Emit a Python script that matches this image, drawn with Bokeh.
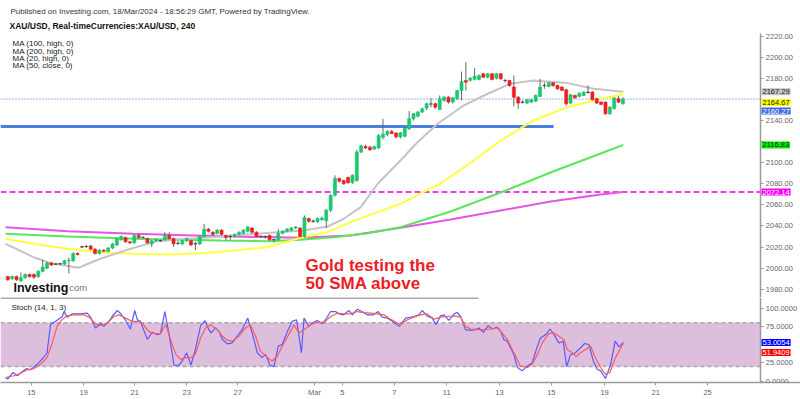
from bokeh.plotting import figure
from bokeh.models import Range1d, FixedTicker, PrintfTickFormatter, BoxAnnotation, Label, ColumnDataSource
from bokeh.layouts import column
from bokeh.embed import file_html
from bokeh.resources import INLINE

FONT = "Liberation Sans"

# ---------------- data (4H XAU/USD candles, bar index = position) ----------------
opens = [1992, 1990, 1992, 1988, 1991, 1994, 1994, 1992, 1997, 2000,
         2005, 2004, 2004, 2004, 2007, 2007, 2014, 2020, 2020.5, 2021,
         2018, 2014, 2017, 2016, 2019, 2022, 2027, 2029, 2025, 2024,
         2031, 2029, 2028, 2023, 2026, 2026, 2027, 2031, 2028, 2023.5,
         2023, 2026, 2026, 2023, 2023, 2030, 2037, 2034, 2033, 2036,
         2031, 2030, 2030, 2032, 2033, 2035, 2038, 2034, 2030, 2030,
         2031, 2027, 2027, 2033, 2035, 2036, 2038, 2038, 2030, 2047,
         2044.5, 2044, 2046, 2045, 2055, 2069, 2085, 2083, 2086, 2081,
         2083, 2110, 2115.3, 2114.7, 2113, 2114, 2124, 2126.5, 2129.5, 2128,
         2124.5, 2125, 2132, 2141.6, 2144, 2148, 2151.7, 2155.5, 2155.8, 2150.4,
         2158.9, 2162, 2157.5, 2160.5, 2168.4, 2177.9, 2178, 2179, 2178.9, 2184.2,
         2181, 2184.2, 2180.1, 2184.2, 2177.9, 2177.9, 2171.6, 2162.1, 2157.4, 2156.5,
         2157.4, 2158.3, 2162.8, 2173.2, 2172.2, 2175.7, 2173.2, 2171.6, 2169, 2156.5,
         2163.7, 2162.8, 2163.7, 2166.9, 2166.9, 2160.6, 2157.4, 2157.4, 2146.3, 2151.1,
         2160.6, 2155.8]
highs = [1993, 1993, 1993, 1996, 1995, 1995, 1995, 1998, 2008, 2006,
         2006, 2005, 2005, 2008, 2010, 2015, 2015, 2021.5, 2022, 2022,
         2019, 2018, 2018, 2020, 2024, 2029, 2031, 2030, 2026, 2032,
         2033, 2030.5, 2029, 2027, 2028, 2027, 2034, 2034, 2029, 2026,
         2027, 2029, 2027, 2025, 2031, 2042, 2038, 2035, 2037, 2037,
         2032, 2032, 2033, 2035, 2037, 2040, 2039, 2035, 2031, 2031,
         2032, 2028, 2037, 2036, 2038, 2039, 2040, 2039, 2050, 2048,
         2046, 2048, 2049, 2056, 2070, 2088, 2086, 2084, 2087, 2089,
         2112, 2117, 2117, 2116, 2116, 2127, 2141.5, 2131, 2131, 2129,
         2129, 2134, 2149, 2147, 2149, 2152, 2157, 2161.2, 2157, 2163.7,
         2163, 2163, 2162, 2169, 2186.4, 2195.3, 2181, 2189.6, 2183.5, 2185,
         2185, 2185, 2185, 2185, 2179.5, 2178.5, 2182.7, 2163, 2159, 2160.5,
         2160.5, 2164.5, 2179.5, 2176, 2176.5, 2176.5, 2174, 2172.5, 2170, 2165,
         2164.5, 2166.5, 2167.5, 2173.2, 2168, 2161.5, 2158, 2158, 2153.5, 2162,
         2163, 2162]
lows = [1988, 1989, 1988, 1987, 1990, 1991, 1990, 1991, 1996, 1999,
        2002, 2003, 2003, 2003, 1995, 2006, 2012, 2019, 2019, 2017,
        2013, 2013, 2015, 2015, 2018, 2021, 2026, 2024, 2023, 2023,
        2028, 2028, 2023, 2020, 2025, 2025, 2026, 2027, 2020, 2022,
        2022, 2025, 2021, 2017, 2022, 2029, 2034, 2031, 2032, 2031,
        2026, 2027, 2029, 2031, 2032, 2034, 2033, 2029, 2029, 2028,
        2026, 2024, 2026, 2032, 2034, 2035, 2037, 2029, 2029, 2043,
        2043, 2043, 2045, 2038, 2053, 2068, 2081, 2079, 2080, 2080,
        2082, 2109, 2113, 2111, 2112, 2113, 2122, 2125, 2127, 2123,
        2123, 2124, 2131, 2140, 2143, 2147, 2150, 2152.6, 2151, 2150.4,
        2158, 2156, 2156, 2159.5, 2159, 2168.4, 2177, 2178, 2178, 2180,
        2180, 2178, 2179, 2178.5, 2176, 2172, 2153.3, 2151.1, 2156, 2155.5,
        2156.5, 2157.5, 2162, 2170, 2171.5, 2172, 2169, 2168, 2154.2, 2155.5,
        2160.5, 2162, 2163, 2165.5, 2159, 2155.5, 2154.5, 2145.5, 2145.5, 2150.5,
        2156.5, 2155]
closes = [1989, 1992, 1989, 1991, 1994, 1992, 1991.5, 1997, 2001, 2005,
          2003, 2003.8, 2004.3, 2007, 2007.5, 2014, 2013, 2020.3, 2020.6, 2018,
          2014, 2017, 2016, 2019, 2023, 2028, 2030, 2025, 2024, 2031,
          2029, 2029.2, 2024, 2026, 2027, 2026.2, 2031, 2028, 2023, 2023.7,
          2026, 2028, 2022, 2023.2, 2030, 2037, 2035, 2032, 2036, 2032,
          2029, 2030.2, 2032, 2034, 2036, 2039, 2034, 2030, 2030.2, 2029.8,
          2027, 2027.2, 2033, 2035, 2037, 2038, 2039, 2030, 2048, 2044.5,
          2044.7, 2047, 2047.5, 2055, 2069, 2085, 2082.5, 2080, 2081, 2088,
          2110, 2116, 2114, 2112.2, 2115.3, 2125.7, 2127, 2129.5, 2127.7, 2124.5,
          2128.3, 2132.5, 2141.6, 2146.3, 2148, 2151, 2155.8, 2155.7, 2152.6, 2160.5,
          2162.1, 2157.4, 2161.5, 2168.4, 2177, 2176.3, 2180.1, 2182, 2182.6, 2181,
          2184.2, 2178.9, 2184.2, 2179.5, 2177.7, 2173.2, 2162.1, 2156.5, 2157.2, 2159.6,
          2159.6, 2163.7, 2171.6, 2173.0, 2175.7, 2173, 2170, 2168.5, 2155.8, 2164.4,
          2161.5, 2165.9, 2166.9, 2166.5, 2159.6, 2156.5, 2155.2, 2146.3, 2152.7, 2161.2,
          2157.4, 2160.27]

# moving averages (sampled along the bar axis)
ma20_x = [-0.5, 5.9, 9.8, 16.2, 21.2, 27.4, 34.3, 41.2, 48.8, 61.8, 67.8, 73.3, 77.0,
          80.9, 84.8, 90.0, 93.9, 98.5, 104.5, 110.0, 115.2, 120.5, 128.3, 134.3, 141.1]
ma20 = [2023.1, 2010.4, 2004.7, 2000.4, 2008.9, 2017.4, 2025.6, 2027.9, 2030.0, 2034.1,
        2035.7, 2039.5, 2046.8, 2057.8, 2080.0, 2102.1, 2119.4, 2136.9, 2154.2, 2165.3,
        2174.8, 2177.9, 2175.4, 2170.1, 2167.29]
ma50_x = [-0.5, 5.9, 13.7, 21.2, 28.8, 36.6, 44.2, 51.7, 59.5, 67.1, 73.3, 78.6, 84.8,
          90.0, 99.2, 106.8, 113.0, 120.5, 128.3, 135.9, 141.1]
ma50 = [2027.9, 2023.1, 2018.4, 2015.1, 2013.6, 2013.0, 2014.2, 2016.8, 2019.9, 2028.8,
        2034.1, 2043.6, 2053.1, 2061.0, 2080.3, 2102.1, 2121.0, 2140.0, 2152.6, 2160.6, 2164.67]
ma100_x = [-0.5, 13.7, 28.8, 48.8, 59.5, 67.1, 74.7, 82.5, 90.0, 101.5, 113.0, 124.4, 135.9, 141.1]
ma100 = [2032.6, 2030.0, 2027.9, 2026.2, 2025.6, 2026.9, 2029.4, 2033.2, 2038.8, 2053.7,
         2071.7, 2090.7, 2108.7, 2116.83]
ma200_x = [-0.5, 13.7, 28.8, 48.8, 67.1, 78.6, 90.0, 101.5, 113.0, 124.4, 135.9, 141.1]
ma200 = [2038.8, 2035.1, 2032.6, 2030.3, 2028.8, 2031.0, 2038.3, 2046.1, 2054.7, 2063.2,
         2069.8, 2072.14]

last_close = 2160.27
support_level = 2134.3
support_end_bar = 125.1

# stochastic (14, 1, 3)
stoch_k_x = [-0.5, 0.0, 1.2, 2.2, 3.3, 4.3, 5.2, 6.0, 7.1, 8.3,
             9.0, 9.8, 10.9, 12.5, 12.9, 13.6, 14.8, 16.7, 18.2, 19.0,
             20.1, 21.3, 22.0, 23.2, 23.9, 25.1, 25.8, 27.0, 28.1, 29.1,
             29.7, 30.4, 32.0, 33.1, 34.3, 35.0, 36.0, 36.9, 38.1, 39.2,
             40.0, 41.0, 42.0, 43.0, 44.2, 45.2, 46.1, 46.6, 47.6, 48.4,
             49.2, 50.3, 51.4, 52.6, 53.7, 55.0, 56.0, 57.2, 58.3, 59.1,
             60.1, 61.0, 62.0, 62.9, 64.1, 65.2, 66.2, 67.3, 67.9, 69.0,
             69.8, 70.9, 72.1, 72.8, 74.0, 75.1, 76.1, 77.0, 78.2, 79.0,
             80.1, 81.2, 82.4, 83.8, 84.9, 85.8, 87.0, 88.5, 89.7, 91.2,
             93.1, 94.2, 95.0, 96.1, 97.3, 98.1, 99.2, 100.0, 101.1, 102.3,
             103.0, 103.8, 104.9, 106.1, 107.2, 108.0, 109.0, 110.1, 111.1, 112.2,
             113.0, 113.7, 114.5, 116.0, 116.8, 117.9, 119.1, 120.2, 121.4, 122.1,
             123.3, 124.3, 125.2, 126.3, 127.3, 128.1, 129.0, 129.9, 131.3, 132.2,
             133.2, 134.2, 135.1, 135.9, 137.0, 138.2, 139.2, 140.1, 141.1]
stoch_k = [5.0, 2.8, 11.9, 7.4, 12.8, 17.3, 15.5, 19.5, 25.4, 33.1,
           38.9, 77.3, 81.8, 88.5, 95.3, 87.6, 92.1, 92.1, 93.0, 87.6,
           72.8, 78.6, 75.0, 81.8, 88.5, 96.7, 93.0, 83.1, 71.4, 96.7,
           84.0, 81.8, 57.0, 66.9, 63.7, 65.1, 95.3, 66.0, 21.8, 21.8,
           27.7, 38.9, 22.2, 43.4, 75.9, 82.7, 70.5, 66.0, 72.8, 68.2,
           57.0, 51.1, 52.5, 61.5, 70.5, 86.3, 66.0, 38.9, 32.2, 36.7,
           21.8, 20.0, 47.9, 50.2, 68.2, 81.8, 84.0, 38.9, 86.3, 75.0,
           79.5, 83.1, 78.6, 84.0, 95.3, 95.3, 91.7, 90.8, 96.7, 90.8,
           98.5, 95.3, 90.8, 90.8, 95.3, 87.6, 86.3, 80.4, 75.0, 86.3,
           88.5, 90.8, 96.7, 89.4, 86.3, 77.3, 89.4, 90.8, 83.1, 92.1,
           94.0, 88.5, 70.5, 69.6, 70.5, 72.8, 66.9, 75.9, 71.4, 74.1,
           68.2, 57.0, 54.7, 36.7, 18.6, 14.1, 20.9, 25.4, 47.9, 59.2,
           63.7, 71.4, 63.7, 52.5, 54.7, 20.0, 36.7, 38.0, 45.7, 51.6,
           50.2, 27.7, 16.4, 14.1, 3.7, 23.1, 54.7, 47.0, 53.0054]
stoch_d_x = [-0.5, 1.4, 2.9, 4.4, 6.0, 7.5, 9.0, 10.2, 11.3, 12.5,
             13.6, 15.1, 17.4, 18.6, 20.1, 21.6, 22.8, 24.3, 25.5, 27.0,
             28.5, 29.7, 30.8, 32.3, 33.5, 35.0, 36.2, 37.3, 38.5, 39.6,
             40.7, 41.9, 43.0, 44.2, 45.3, 46.5, 48.0, 49.2, 50.3, 51.4,
             53.0, 54.5, 55.6, 56.8, 57.9, 59.5, 60.6, 61.8, 62.9, 64.4,
             65.6, 66.7, 67.9, 69.4, 70.9, 72.5, 74.0, 75.5, 77.0, 78.6,
             80.1, 81.6, 83.2, 84.7, 86.2, 87.7, 89.3,
             90.0, 91.6, 93.1, 94.6, 96.1, 97.7, 99.2, 100.7, 102.3, 103.8,
             104.9, 106.1, 107.6, 109.1, 110.7, 112.2, 113.3, 114.5, 116.0, 117.5,
             119.1, 120.2, 121.4, 122.5, 124.0, 125.2, 126.3, 127.5, 128.2, 129.4,
             130.2, 131.3, 132.4, 133.6, 134.5, 135.9, 137.0, 138.0, 139.3, 141.1]
stoch_d = [5.0, 7.4, 10.9, 15.5, 17.3, 23.1, 32.2, 52.5, 75.0, 84.9,
           89.4, 90.8, 90.8, 87.6, 78.6, 75.9, 79.5, 88.5, 90.8, 86.3,
           81.8, 81.8, 79.5, 68.2, 65.1, 65.1, 77.3, 57.0, 36.7, 29.9,
           32.2, 32.2, 36.7, 59.2, 72.8, 77.3, 70.5, 61.5, 56.1, 54.7,
           61.5, 72.8, 77.3, 61.5, 41.2, 32.2, 27.7, 34.4, 47.9, 63.7,
           77.3, 66.0, 70.5, 77.3, 80.4, 80.4, 88.5, 93.0, 92.1, 92.1,
           95.3, 93.9, 93.0, 92.1, 90.8, 84.9, 79.5,
           77.3, 84.0, 87.6, 90.8, 92.1, 84.9, 87.6, 88.5, 89.4, 87.6,
           75.0, 71.4, 70.5, 70.5, 71.4, 72.8, 66.0, 57.0, 38.9, 20.9,
           18.6, 23.1, 36.7, 52.5, 65.1, 66.0, 61.5, 57.0, 43.4, 38.9,
           33.5, 38.9, 43.4, 47.9, 34.4, 18.6, 9.6, 11.9, 32.2, 51.9409]
stoch_upper = 80
stoch_lower = 20

price_ticks = [1980, 2000, 2020, 2040, 2060, 2080, 2100, 2120, 2140, 2160, 2180, 2200, 2220]
stoch_ticks = [0, 25, 75, 100]
date_pos = [5.4, 17.4, 29.1, 41.0, 52.7, 70.3, 76.7, 88.6, 100.6, 112.7, 124.6, 136.8, 148.5, 160.4]
date_labels = ["15", "19", "21", "23", "27", "Mar", "5", "7", "11", "13", "15", "19", "21", "25"]

assert len(opens) == len(highs) == len(lows) == len(closes)
assert len(stoch_k_x) == len(stoch_k) and len(stoch_d_x) == len(stoch_d)

# ---------------- styling helpers ----------------
GREEN, RED, DOJI, WICK = "#1ac86e", "#f01d1d", "#3a3a3a", "#5f6d63"
AX = "#9a9a9a"
SCALE_BAR = 172.6          # bar-axis position where the price scale sits


def style_axis(ax, ticks, fmt, overrides=None):
    ax.ticker = FixedTicker(ticks=ticks)
    if fmt:
        ax.formatter = PrintfTickFormatter(format=fmt)
    if overrides:
        ax.major_label_overrides = overrides
    ax.axis_line_color = AX
    ax.axis_line_width = 1.5
    ax.major_tick_line_color = AX
    ax.major_tick_in = 0
    ax.major_tick_out = 3
    ax.minor_tick_line_color = None
    ax.major_label_text_font = FONT
    ax.major_label_text_font_size = "7.5px"
    ax.major_label_text_color = "#666666"
    ax.major_label_standoff = 2


def txt(p, x, y, text, size="8px", color="#222222", style="normal", baseline="middle"):
    p.add_layout(Label(x=x, y=y, x_units="screen", y_units="screen", text=text,
                       text_font=FONT, text_font_size=size, text_color=color,
                       text_font_style=style, text_baseline=baseline, text_align="left"))


def value_box(p, y, text, bg, fg, dy=0):
    p.add_layout(Label(x=761, y=y, x_units="screen", y_units="data", y_offset=dy, text=text,
                       text_font=FONT, text_font_size="7.5px", text_color=fg,
                       text_baseline="middle", text_align="left",
                       background_fill_color=bg, background_fill_alpha=1.0, padding=1))


# ---------------- main price panel ----------------
xr = Range1d(-1.67, 181.7)
p1 = figure(width=800, height=297, x_range=xr, y_range=Range1d(1972.2, 2253.7),
            output_backend="svg", toolbar_location=None, title=None,
            x_axis_location=None, y_axis_location="right",
            min_border_left=0, min_border_right=0, min_border_top=0, min_border_bottom=0,
            outline_line_color=None, background_fill_color="white", border_fill_color="white")
p1.grid.visible = False
ya = p1.yaxis[0]
ya.fixed_location = SCALE_BAR
ya.bounds = (1972.2, 2222.5)
style_axis(ya, price_ticks, "%.2f", {2160: "", 2120: ""})

bars = list(range(len(closes)))
src = ColumnDataSource(dict(
    x=bars, h=highs, l=lows,
    top=[max(o, c) for o, c in zip(opens, closes)],
    bot=[min(o, c) for o, c in zip(opens, closes)],
    col=[DOJI if abs(c - o) < 0.45 else (GREEN if c > o else RED) for o, c in zip(opens, closes)],
))

p1.segment(x0=[xr.start], y0=[ma200[-1]], x1=[SCALE_BAR], y1=[ma200[-1]],
           line_color="#f03cf0", line_dash="6 3", line_width=2)
p1.segment(x0=[xr.start], y0=[last_close], x1=[SCALE_BAR], y1=[last_close],
           line_color="#4169e1", line_dash="1 2", line_width=1)
p1.segment(x0=[xr.start], y0=[support_level], x1=[support_end_bar], y1=[support_level],
           line_color="#4a7ee0", line_width=3)

p1.line(ma200_x, ma200, line_color="#e655e6", line_width=2)
p1.line(ma100_x, ma100, line_color="#5ae65a", line_width=2)
p1.line(ma50_x, ma50, line_color="#ffff3c", line_width=2)
p1.line(ma20_x, ma20, line_color="#c4c4c4", line_width=2)

p1.segment(x0="x", y0="l", x1="x", y1="h", source=src, line_color=WICK, line_width=1)
p1.vbar(x="x", width=0.7, top="top", bottom="bot", source=src,
        fill_color="col", line_color="col", line_width=0.6)

# header / legend texts (screen y measured from the panel bottom at 297px)
txt(p1, 10, 286, "Published on Investing.com, 18/Mar/2024 - 18:56:29 GMT, Powered by TradingView.", "8px", "#333333")
txt(p1, 9, 272, "XAU/USD, Real-timeCurrencies:XAU/USD, 240", "8.5px", "#111111", "bold")
txt(p1, 12, 253.7, "MA (100, high, 0)", "8px", "#222222")
txt(p1, 12, 246.3, "MA (200, high, 0)", "8px", "#222222")
txt(p1, 12, 239.3, "MA (20, high, 0)", "8px", "#222222")
txt(p1, 12, 232.3, "MA (50, close, 0)", "8px", "#222222")
txt(p1, 13, 9.7, "Investing", "12.5px", "#111111", "bold", "alphabetic")
txt(p1, 66, 9.7, ".com", "9.5px", "#777777", "normal", "alphabetic")
txt(p1, 305, 32, "Gold testing the", "17px", "#ee1c25", "bold", "alphabetic")
txt(p1, 305, 14, "50 SMA above", "17px", "#ee1c25", "bold", "alphabetic")

value_box(p1, ma20[-1], f"{ma20[-1]:.2f}", "#c3c3c3", "#222222")
value_box(p1, ma50[-1], f"{ma50[-1]:.2f}", "#ffff00", "#222222", -8)
value_box(p1, last_close, f"{last_close:.2f}", "#4169e1", "#ffffff", -12)
value_box(p1, ma100[-1], f"{ma100[-1]:.2f}", "#00ee00", "#222222")
value_box(p1, ma200[-1], f"{ma200[-1]:.2f}", "#ff00ff", "#ffffff")

# ---------------- stochastic panel ----------------
p2 = figure(width=800, height=102, x_range=xr, y_range=Range1d(-1.8, 114.5),
            output_backend="svg", toolbar_location=None, title=None,
            x_axis_location="below", y_axis_location="right",
            min_border_left=0, min_border_right=0, min_border_top=0, min_border_bottom=16,
            outline_line_color=None, background_fill_color="white", border_fill_color="white")
p2.grid.visible = False
sa = p2.yaxis[0]
sa.fixed_location = SCALE_BAR
style_axis(sa, stoch_ticks, "%.4f")
style_axis(p2.xaxis[0], date_pos, None, {pos: lab for pos, lab in zip(date_pos, date_labels)})

p2.add_layout(BoxAnnotation(bottom=stoch_lower, top=stoch_upper, right=SCALE_BAR,
                            fill_color="#ddbedd", fill_alpha=1.0, line_color=None, level="underlay"))
p2.segment(x0=[xr.start, xr.start], y0=[stoch_upper, stoch_lower],
           x1=[SCALE_BAR, SCALE_BAR], y1=[stoch_upper, stoch_lower],
           line_color="#a8a8a8", line_dash="4 3", line_width=1.5)
p2.line(x=[xr.start, 107.9], y=[113.9, 113.9], line_color="#8c8c8c", line_width=1.5)

p2.line(stoch_k_x, stoch_k, line_color="#5a5aff", line_width=1.2)
p2.line(stoch_d_x, stoch_d, line_color="#ff5a5a", line_width=1.2)

txt(p2, 11, 74.7, "Stoch (14, 1, 3)", "8px", "#222222")
value_box(p2, stoch_k[-1], f"{stoch_k[-1]:.4f}", "#0000ff", "#ffffff")
value_box(p2, stoch_d[-1], f"{stoch_d[-1]:.4f}", "#ff0000", "#ffffff", -9.4)

layout = column(p1, p2, spacing=0)

open("out.html", "w").write(file_html(layout, INLINE))
